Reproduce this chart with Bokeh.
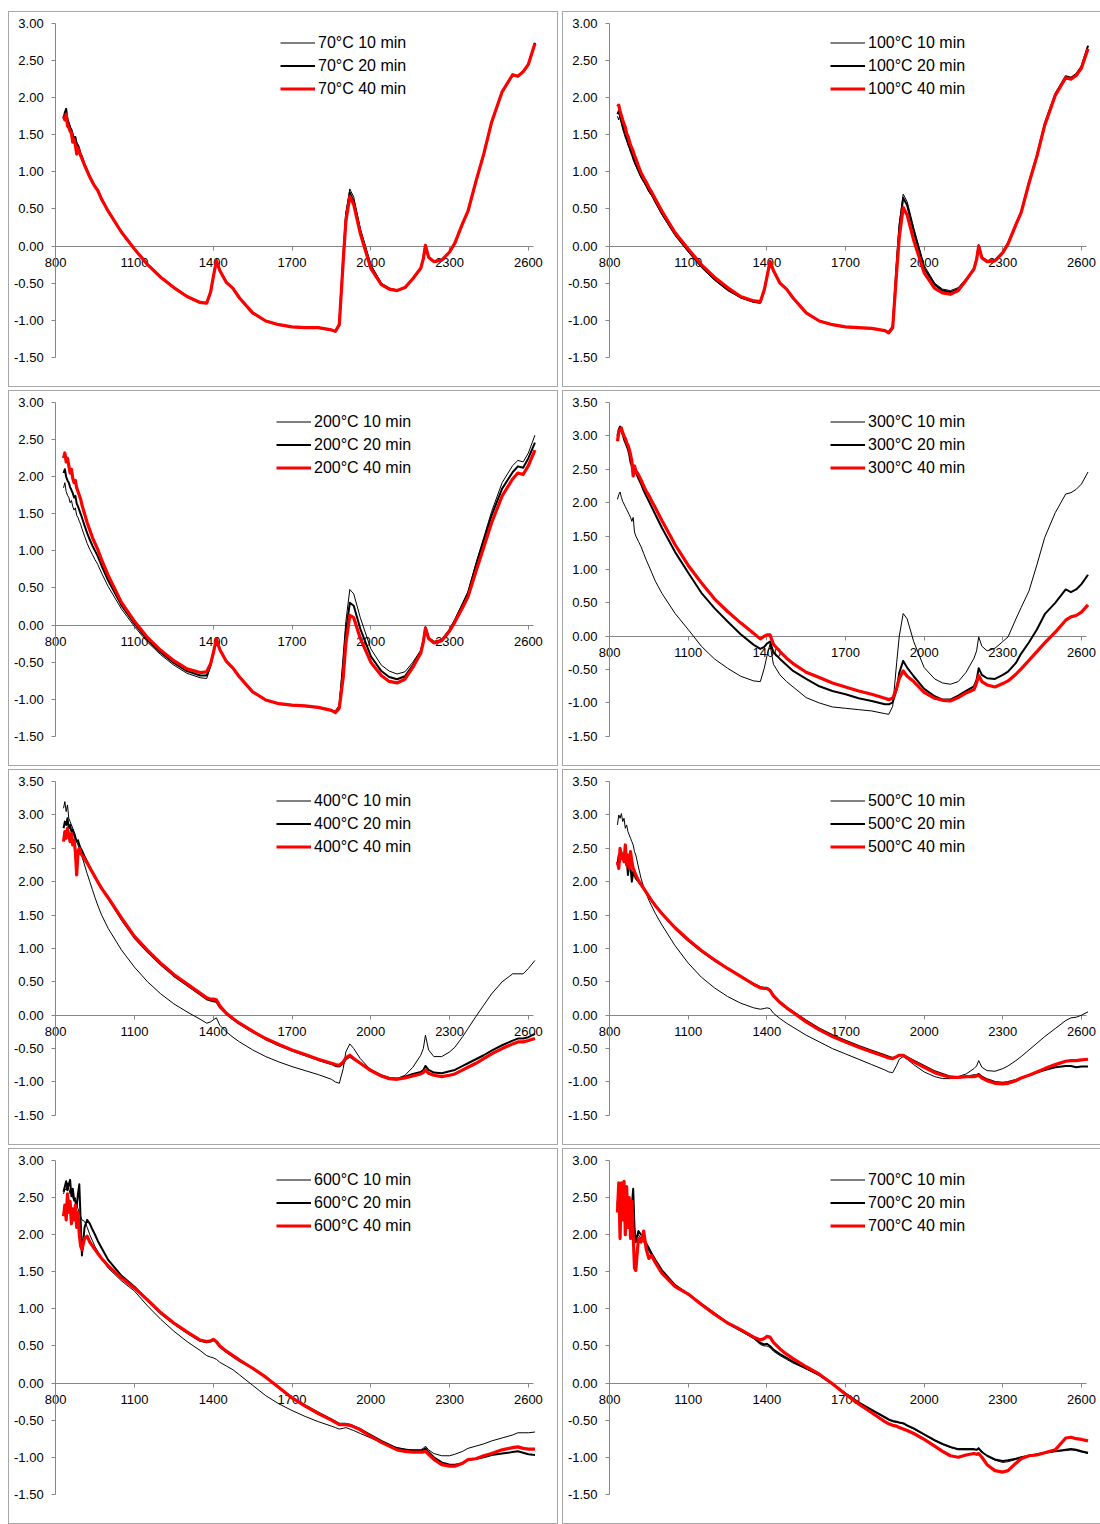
from bokeh.plotting import figure
from bokeh.layouts import column, row
from bokeh.models import (Range1d, FixedTicker, NumeralTickFormatter, Legend,
                          LegendItem, Spacer)
from bokeh.embed import file_html
from bokeh.resources import INLINE

WAVELENGTH_NM = [
    830, 835, 840, 845, 850, 855, 860, 865, 870, 875, 880, 885, 890, 895, 900,
    910, 920, 930, 940, 950, 960, 975, 1000,
    1050, 1100, 1150, 1200, 1250, 1300, 1350,
    1375, 1390, 1400, 1412, 1425, 1450, 1475, 1500,
    1550, 1600, 1650, 1700, 1750, 1800, 1850,
    1865, 1880, 1895, 1905, 1920, 1935, 1960,
    2000, 2040, 2070, 2100, 2130, 2160, 2190,
    2200, 2208, 2220, 2240, 2270, 2300,
    2320, 2350, 2370, 2400, 2430, 2460, 2500,
    2540, 2560, 2580, 2600, 2625]

T70_10 = [
    1.70, 1.76, 1.80, 1.74, 1.64, 1.62, 1.55, 1.52, 1.45, 1.44, 1.40, 1.34, 1.30, 1.25, 1.20,
    1.10, 1.02, 0.94, 0.87, 0.80, 0.76, 0.64, 0.47,
    0.19, -0.04, -0.25, -0.42, -0.56, -0.68, -0.76,
    -0.77, -0.62, -0.42, -0.19, -0.33, -0.49, -0.57, -0.70,
    -0.90, -1.01, -1.06, -1.09, -1.10, -1.10, -1.13,
    -1.15, -1.04, -0.12, 0.45, 0.77, 0.66, 0.24,
    -0.25, -0.50, -0.57, -0.60, -0.56, -0.44, -0.30,
    -0.17, 0.01, -0.15, -0.21, -0.19, -0.08,
    0.04, 0.31, 0.47, 0.87, 1.24, 1.67, 2.08,
    2.31, 2.29, 2.35, 2.45, 2.74]
T70_20 = [
    1.72, 1.80, 1.85, 1.70, 1.66, 1.60, 1.57, 1.50, 1.46, 1.47, 1.38, 1.36, 1.31, 1.24, 1.21,
    1.10, 1.02, 0.94, 0.87, 0.80, 0.76, 0.64, 0.47,
    0.19, -0.04, -0.25, -0.42, -0.56, -0.68, -0.76,
    -0.77, -0.62, -0.42, -0.19, -0.33, -0.49, -0.57, -0.70,
    -0.90, -1.01, -1.06, -1.09, -1.10, -1.10, -1.13,
    -1.15, -1.05, -0.15, 0.40, 0.72, 0.60, 0.20,
    -0.27, -0.51, -0.57, -0.60, -0.56, -0.44, -0.30,
    -0.17, 0.01, -0.15, -0.21, -0.19, -0.08,
    0.04, 0.31, 0.47, 0.87, 1.24, 1.67, 2.08,
    2.31, 2.29, 2.35, 2.45, 2.74]
T70_40 = [
    1.75, 1.70, 1.78, 1.62, 1.60, 1.55, 1.52, 1.40, 1.44, 1.36, 1.24, 1.32, 1.27, 1.22, 1.18,
    1.09, 1.01, 0.93, 0.86, 0.80, 0.75, 0.63, 0.47,
    0.19, -0.04, -0.25, -0.42, -0.56, -0.68, -0.76,
    -0.77, -0.62, -0.42, -0.20, -0.33, -0.49, -0.57, -0.70,
    -0.90, -1.01, -1.06, -1.09, -1.10, -1.10, -1.13,
    -1.15, -1.06, -0.20, 0.33, 0.67, 0.56, 0.17,
    -0.30, -0.52, -0.58, -0.60, -0.56, -0.44, -0.30,
    -0.17, 0.01, -0.15, -0.21, -0.19, -0.08,
    0.04, 0.31, 0.47, 0.87, 1.24, 1.67, 2.08,
    2.31, 2.29, 2.35, 2.45, 2.73]

T100_10 = [
    1.75, 1.70, 1.78, 1.65, 1.58, 1.52, 1.46, 1.42, 1.36, 1.32, 1.26, 1.22, 1.16, 1.12, 1.08,
    1.00, 0.92, 0.86, 0.80, 0.73, 0.68, 0.58, 0.42,
    0.14, -0.08, -0.29, -0.46, -0.60, -0.70, -0.76,
    -0.77, -0.60, -0.42, -0.20, -0.33, -0.50, -0.58, -0.70,
    -0.90, -1.01, -1.06, -1.09, -1.10, -1.11, -1.14,
    -1.16, -1.07, -0.20, 0.30, 0.70, 0.60, 0.25,
    -0.26, -0.50, -0.58, -0.60, -0.56, -0.44, -0.30,
    -0.17, 0.01, -0.15, -0.20, -0.19, -0.08,
    0.04, 0.30, 0.46, 0.86, 1.22, 1.65, 2.05,
    2.29, 2.27, 2.32, 2.42, 2.70]
T100_20 = [
    1.78, 1.82, 1.75, 1.68, 1.62, 1.55, 1.52, 1.45, 1.40, 1.35, 1.30, 1.25, 1.20, 1.15, 1.10,
    1.02, 0.94, 0.88, 0.82, 0.75, 0.70, 0.60, 0.44,
    0.16, -0.06, -0.27, -0.44, -0.58, -0.69, -0.75,
    -0.76, -0.60, -0.42, -0.20, -0.33, -0.50, -0.58, -0.70,
    -0.90, -1.01, -1.06, -1.09, -1.10, -1.11, -1.14,
    -1.16, -1.08, -0.25, 0.25, 0.65, 0.55, 0.20,
    -0.30, -0.52, -0.60, -0.62, -0.58, -0.45, -0.30,
    -0.17, 0.01, -0.15, -0.20, -0.19, -0.08,
    0.04, 0.30, 0.46, 0.86, 1.22, 1.65, 2.05,
    2.29, 2.27, 2.32, 2.42, 2.70]
T100_40 = [
    1.88, 1.90, 1.82, 1.76, 1.70, 1.65, 1.60, 1.52, 1.48, 1.42, 1.36, 1.32, 1.28, 1.22, 1.18,
    1.08, 0.99, 0.92, 0.86, 0.79, 0.73, 0.63, 0.47,
    0.18, -0.04, -0.25, -0.42, -0.56, -0.68, -0.74,
    -0.75, -0.59, -0.42, -0.21, -0.33, -0.50, -0.58, -0.70,
    -0.90, -1.01, -1.06, -1.09, -1.10, -1.11, -1.14,
    -1.17, -1.10, -0.35, 0.12, 0.52, 0.42, 0.08,
    -0.36, -0.57, -0.63, -0.65, -0.60, -0.46, -0.31,
    -0.18, 0.00, -0.16, -0.21, -0.20, -0.09,
    0.03, 0.29, 0.45, 0.85, 1.21, 1.63, 2.03,
    2.27, 2.25, 2.30, 2.40, 2.66]

T200_10 = [
    1.85, 1.92, 1.80, 1.75, 1.72, 1.65, 1.68, 1.60, 1.55, 1.58, 1.48, 1.45, 1.40, 1.36, 1.30,
    1.20, 1.10, 1.02, 0.95, 0.88, 0.82, 0.70, 0.52,
    0.22, -0.02, -0.23, -0.40, -0.54, -0.65, -0.71,
    -0.72, -0.56, -0.40, -0.19, -0.33, -0.49, -0.58, -0.70,
    -0.90, -1.01, -1.06, -1.08, -1.09, -1.11, -1.15,
    -1.16, -1.08, -0.40, 0.05, 0.48, 0.42, 0.10,
    -0.32, -0.54, -0.62, -0.66, -0.63, -0.50, -0.34,
    -0.20, -0.03, -0.16, -0.22, -0.20, -0.05,
    0.08, 0.30, 0.45, 0.83, 1.18, 1.53, 1.92,
    2.15, 2.22, 2.20, 2.32, 2.56]
T200_20 = [
    2.05, 2.10, 2.00, 1.95, 1.92, 1.86, 1.82, 1.78, 1.72, 1.74, 1.64, 1.60, 1.55, 1.50, 1.45,
    1.34, 1.24, 1.15, 1.07, 1.00, 0.93, 0.80, 0.60,
    0.27, 0.02, -0.20, -0.37, -0.51, -0.62, -0.68,
    -0.68, -0.54, -0.39, -0.19, -0.33, -0.49, -0.58, -0.70,
    -0.90, -1.01, -1.06, -1.08, -1.09, -1.11, -1.15,
    -1.17, -1.10, -0.55, -0.10, 0.30, 0.26, -0.05,
    -0.42, -0.62, -0.70, -0.73, -0.69, -0.54, -0.36,
    -0.21, -0.03, -0.17, -0.23, -0.20, -0.07,
    0.06, 0.28, 0.43, 0.80, 1.14, 1.48, 1.84,
    2.06, 2.14, 2.12, 2.25, 2.46]
T200_40 = [
    2.25, 2.32, 2.20, 2.25, 2.15, 2.05, 2.10, 1.98, 1.92, 1.95, 1.85, 1.80, 1.75, 1.70, 1.62,
    1.50, 1.38, 1.28, 1.18, 1.10, 1.02, 0.88, 0.67,
    0.31, 0.05, -0.17, -0.34, -0.48, -0.59, -0.64,
    -0.63, -0.52, -0.38, -0.19, -0.33, -0.49, -0.58, -0.70,
    -0.90, -1.01, -1.06, -1.08, -1.09, -1.11, -1.15,
    -1.18, -1.12, -0.70, -0.25, 0.13, 0.10, -0.18,
    -0.50, -0.68, -0.76, -0.78, -0.73, -0.57, -0.38,
    -0.23, -0.04, -0.18, -0.24, -0.21, -0.08,
    0.04, 0.24, 0.38, 0.72, 1.05, 1.38, 1.74,
    1.97, 2.05, 2.03, 2.15, 2.36]

T300_10 = [
    2.05, 2.12, 2.16, 2.08, 2.02, 1.98, 1.94, 1.90, 1.86, 1.82, 1.78, 1.72, 1.78, 1.56, 1.50,
    1.42, 1.34, 1.24, 1.14, 1.05, 0.96, 0.82, 0.64,
    0.34, 0.10, -0.15, -0.34, -0.48, -0.60, -0.67,
    -0.68, -0.48, -0.30, -0.12, -0.42, -0.58, -0.68, -0.76,
    -0.92, -1.00, -1.06, -1.08, -1.10, -1.12, -1.16,
    -1.17, -1.05, -0.40, 0.00, 0.34, 0.26, -0.08,
    -0.47, -0.64, -0.70, -0.72, -0.68, -0.54, -0.33,
    -0.22, -0.01, -0.15, -0.22, -0.18, -0.08,
    -0.01, 0.26, 0.43, 0.68, 1.07, 1.48, 1.85,
    2.13, 2.15, 2.20, 2.28, 2.46]
T300_20 = [
    3.00, 3.10, 3.14, 3.08, 3.02, 2.95, 2.90, 2.85, 2.80, 2.72, 2.60, 2.55, 2.42, 2.50, 2.45,
    2.36, 2.28, 2.18, 2.10, 2.02, 1.94, 1.82, 1.62,
    1.26, 0.95, 0.65, 0.42, 0.22, 0.03, -0.13,
    -0.19, -0.16, -0.11, -0.08, -0.24, -0.34, -0.43, -0.52,
    -0.64, -0.75, -0.82, -0.87, -0.93, -0.97, -1.02,
    -1.02, -0.99, -0.80, -0.55, -0.37, -0.47, -0.60,
    -0.79, -0.90, -0.95, -0.95, -0.89, -0.82, -0.75,
    -0.65, -0.48, -0.58, -0.63, -0.64, -0.58,
    -0.53, -0.40, -0.26, -0.09, 0.10, 0.33, 0.50,
    0.70, 0.66, 0.70, 0.78, 0.92]
T300_40 = [
    2.92, 3.05, 3.10, 3.12, 3.05, 3.00, 2.96, 2.90, 2.86, 2.80, 2.72, 2.62, 2.40, 2.55, 2.48,
    2.42, 2.34, 2.25, 2.17, 2.11, 2.03, 1.92, 1.73,
    1.37, 1.06, 0.80, 0.56, 0.37, 0.20, 0.04,
    -0.04, 0.00, 0.02, 0.02, -0.12, -0.23, -0.33, -0.41,
    -0.54, -0.62, -0.70, -0.76, -0.82, -0.87, -0.93,
    -0.95, -0.93, -0.78, -0.63, -0.52, -0.60, -0.68,
    -0.84, -0.93, -0.96, -0.97, -0.92, -0.85, -0.80,
    -0.70, -0.59, -0.68, -0.73, -0.76, -0.71,
    -0.67, -0.57, -0.49, -0.36, -0.23, -0.10, 0.06,
    0.24, 0.29, 0.31, 0.36, 0.47]

T400_10 = [
    3.10, 3.20, 3.05, 3.15, 2.95, 2.90, 2.85, 2.80, 2.75, 2.70, 2.60, 2.55, 2.50, 2.45, 2.38,
    2.25, 2.12, 2.00, 1.88, 1.76, 1.65, 1.50, 1.30,
    0.98, 0.72, 0.50, 0.32, 0.17, 0.05, -0.06,
    -0.12, -0.10, -0.07, -0.04, -0.15, -0.25, -0.33, -0.40,
    -0.52, -0.62, -0.70, -0.77, -0.83, -0.89, -0.96,
    -1.00, -1.02, -0.80, -0.55, -0.43, -0.50, -0.65,
    -0.82, -0.92, -0.95, -0.95, -0.90, -0.78, -0.60,
    -0.50, -0.30, -0.52, -0.62, -0.62, -0.55,
    -0.48, -0.32, -0.20, -0.02, 0.15, 0.32, 0.50,
    0.62, 0.62, 0.62, 0.70, 0.82]
T400_20 = [
    2.80, 2.90, 2.85, 2.95, 2.80, 2.85, 2.75, 2.78, 2.70, 2.65, 2.60, 2.62, 2.55, 2.50, 2.47,
    2.38, 2.30, 2.22, 2.14, 2.07, 2.00, 1.90, 1.75,
    1.44, 1.16, 0.95, 0.76, 0.59, 0.45, 0.31,
    0.24, 0.22, 0.21, 0.20, 0.12, 0.02, -0.06, -0.13,
    -0.25, -0.36, -0.45, -0.53, -0.60, -0.67, -0.73,
    -0.76, -0.77, -0.72, -0.66, -0.62, -0.66, -0.72,
    -0.82, -0.90, -0.94, -0.95, -0.92, -0.88, -0.85,
    -0.82, -0.76, -0.82, -0.86, -0.87, -0.84,
    -0.82, -0.76, -0.72, -0.66, -0.60, -0.53, -0.45,
    -0.38, -0.35, -0.35, -0.33, -0.28]
T400_40 = [
    2.60, 2.75, 2.65, 2.80, 2.70, 2.60, 2.72, 2.55, 2.62, 2.45, 2.10, 2.45, 2.50, 2.42, 2.40,
    2.34, 2.28, 2.21, 2.14, 2.07, 2.00, 1.90, 1.76,
    1.46, 1.18, 0.97, 0.78, 0.61, 0.47, 0.33,
    0.26, 0.24, 0.24, 0.23, 0.14, 0.03, -0.05, -0.12,
    -0.24, -0.35, -0.44, -0.52, -0.59, -0.66, -0.72,
    -0.74, -0.75, -0.70, -0.64, -0.60, -0.65, -0.72,
    -0.83, -0.91, -0.95, -0.96, -0.94, -0.91, -0.88,
    -0.86, -0.82, -0.87, -0.90, -0.92, -0.90,
    -0.88, -0.82, -0.78, -0.72, -0.65, -0.58, -0.50,
    -0.43, -0.40, -0.40, -0.38, -0.35]

T500_10 = [
    2.85, 3.00, 2.95, 3.02, 2.90, 2.95, 2.80, 2.85, 2.75, 2.70, 2.65, 2.60, 2.55, 2.45, 2.40,
    2.22, 2.05, 1.92, 1.82, 1.72, 1.64, 1.52, 1.35,
    1.04, 0.78, 0.57, 0.41, 0.28, 0.18, 0.11,
    0.09, 0.10, 0.11, 0.10, 0.03, -0.05, -0.12, -0.18,
    -0.30, -0.40, -0.50, -0.58, -0.66, -0.74, -0.82,
    -0.85, -0.86, -0.75, -0.66, -0.62, -0.66, -0.74,
    -0.85, -0.92, -0.95, -0.95, -0.92, -0.88, -0.80,
    -0.76, -0.68, -0.78, -0.83, -0.84, -0.80,
    -0.76, -0.68, -0.62, -0.52, -0.42, -0.32, -0.20,
    -0.08, -0.04, -0.03, 0.00, 0.05]
T500_20 = [
    2.25, 2.40, 2.30, 2.45, 2.35, 2.42, 2.30, 2.35, 2.10, 2.30, 2.20, 2.00, 2.15, 2.10, 2.05,
    2.00, 1.95, 1.90, 1.84, 1.78, 1.72, 1.64, 1.52,
    1.30, 1.12, 0.96, 0.82, 0.70, 0.58, 0.47,
    0.42, 0.41, 0.41, 0.38, 0.30, 0.20, 0.12, 0.05,
    -0.08, -0.20, -0.30, -0.38, -0.46, -0.53, -0.60,
    -0.62, -0.64, -0.62, -0.60, -0.60, -0.63, -0.68,
    -0.76, -0.84, -0.88, -0.92, -0.93, -0.92, -0.90,
    -0.90, -0.88, -0.92, -0.96, -1.00, -1.01,
    -1.00, -0.97, -0.94, -0.90, -0.86, -0.82, -0.78,
    -0.76, -0.76, -0.78, -0.77, -0.77]
T500_40 = [
    2.30, 2.20, 2.50, 2.35, 2.40, 2.30, 2.55, 2.25, 2.40, 2.20, 2.45, 2.30, 2.20, 2.15, 2.10,
    2.02, 1.96, 1.90, 1.84, 1.78, 1.72, 1.64, 1.52,
    1.31, 1.13, 0.97, 0.83, 0.70, 0.58, 0.46,
    0.41, 0.40, 0.40, 0.37, 0.29, 0.19, 0.11, 0.04,
    -0.10, -0.22, -0.32, -0.40, -0.48, -0.55, -0.62,
    -0.64, -0.65, -0.62, -0.60, -0.60, -0.64, -0.70,
    -0.78, -0.86, -0.90, -0.93, -0.93, -0.92, -0.92,
    -0.91, -0.90, -0.94, -0.98, -1.02, -1.03,
    -1.02, -0.98, -0.94, -0.90, -0.85, -0.80, -0.74,
    -0.69, -0.68, -0.68, -0.67, -0.66]

T600_10 = [
    2.55, 2.62, 2.60, 2.70, 2.62, 2.55, 2.60, 2.50, 2.45, 2.50, 2.40, 2.35, 2.30, 2.25, 2.20,
    2.18, 2.10, 2.00, 1.92, 1.84, 1.78, 1.68, 1.55,
    1.38, 1.24, 1.04, 0.86, 0.70, 0.56, 0.44,
    0.37, 0.35, 0.34, 0.32, 0.28, 0.23, 0.18, 0.11,
    -0.03, -0.17, -0.28, -0.37, -0.45, -0.52, -0.58,
    -0.60, -0.62, -0.61, -0.60, -0.62, -0.64, -0.68,
    -0.74, -0.80, -0.84, -0.87, -0.89, -0.90, -0.90,
    -0.88, -0.85, -0.90, -0.95, -0.98, -0.98,
    -0.96, -0.92, -0.88, -0.85, -0.82, -0.78, -0.74,
    -0.70, -0.67, -0.67, -0.67, -0.66]
T600_20 = [
    2.58, 2.65, 2.72, 2.60, 2.68, 2.74, 2.52, 2.62, 2.48, 2.45, 2.38, 2.55, 2.68, 2.20, 1.72,
    2.10, 2.20, 2.15, 2.07, 2.00, 1.92, 1.82, 1.66,
    1.45, 1.30, 1.12, 0.94, 0.80, 0.68, 0.57,
    0.55, 0.56, 0.58, 0.55, 0.49, 0.42, 0.36, 0.30,
    0.20, 0.08, -0.06, -0.20, -0.30, -0.40, -0.49,
    -0.52, -0.55, -0.55, -0.55, -0.56, -0.58, -0.62,
    -0.70, -0.78, -0.83, -0.88, -0.90, -0.91, -0.91,
    -0.90, -0.88, -0.93, -1.00, -1.07, -1.10,
    -1.10, -1.08, -1.04, -1.02, -1.00, -0.97, -0.95,
    -0.93, -0.92, -0.94, -0.96, -0.97]
T600_40 = [
    2.25, 2.40, 2.20, 2.55, 2.30, 2.45, 2.15, 2.35, 2.20, 2.40, 2.10, 2.30, 2.00, 1.85, 1.80,
    1.95, 1.98, 1.90, 1.85, 1.80, 1.75, 1.68, 1.58,
    1.42, 1.28, 1.12, 0.95, 0.81, 0.69, 0.58,
    0.56, 0.57, 0.59, 0.56, 0.50, 0.43, 0.37, 0.31,
    0.20, 0.08, -0.06, -0.20, -0.31, -0.41, -0.50,
    -0.53, -0.56, -0.56, -0.56, -0.57, -0.59, -0.63,
    -0.72, -0.80, -0.85, -0.90, -0.92, -0.93, -0.93,
    -0.93, -0.92, -0.96, -1.03, -1.10, -1.12,
    -1.12, -1.08, -1.03, -1.02, -0.98, -0.95, -0.90,
    -0.87, -0.86, -0.88, -0.89, -0.89]

T700_10 = [
    2.35, 2.55, 2.30, 2.50, 2.20, 2.45, 2.35, 2.30, 2.25, 2.40, 2.20, 2.30, 2.15, 2.00, 1.95,
    2.00, 1.95, 1.90, 1.85, 1.78, 1.72, 1.64, 1.50,
    1.30, 1.19, 1.06, 0.93, 0.80, 0.70, 0.60,
    0.52, 0.50, 0.50, 0.48, 0.43, 0.37, 0.32, 0.27,
    0.19, 0.10, -0.02, -0.15, -0.27, -0.37, -0.47,
    -0.50, -0.52, -0.53, -0.54, -0.55, -0.58, -0.62,
    -0.70, -0.78, -0.83, -0.87, -0.90, -0.90, -0.90,
    -0.90, -0.87, -0.92, -0.98, -1.04, -1.07,
    -1.06, -1.03, -1.00, -0.98, -0.96, -0.94, -0.92,
    -0.91, -0.90, -0.91, -0.93, -0.95]
T700_20 = [
    2.40, 2.60, 2.35, 2.50, 2.30, 2.45, 2.40, 2.55, 2.25, 2.35, 2.20, 2.40, 2.62, 2.10, 1.90,
    2.05, 2.00, 1.95, 1.88, 1.82, 1.75, 1.66, 1.52,
    1.32, 1.20, 1.07, 0.94, 0.81, 0.71, 0.61,
    0.54, 0.52, 0.53, 0.50, 0.45, 0.39, 0.34, 0.29,
    0.20, 0.11, -0.01, -0.14, -0.26, -0.36, -0.46,
    -0.49, -0.51, -0.52, -0.53, -0.54, -0.57, -0.61,
    -0.69, -0.77, -0.82, -0.86, -0.89, -0.89, -0.89,
    -0.90, -0.88, -0.93, -0.98, -1.03, -1.05,
    -1.04, -1.02, -1.00, -0.98, -0.96, -0.94, -0.92,
    -0.90, -0.89, -0.90, -0.92, -0.94]
T700_40 = [
    2.30, 2.70, 1.95, 2.70, 2.20, 2.72, 2.00, 2.65, 2.10, 2.50, 1.95, 2.45, 2.00, 1.55, 1.52,
    1.95, 1.90, 2.05, 1.80, 1.68, 1.72, 1.62, 1.48,
    1.30, 1.20, 1.06, 0.93, 0.81, 0.72, 0.62,
    0.58, 0.60, 0.63, 0.62, 0.55, 0.46, 0.39, 0.33,
    0.22, 0.12, -0.01, -0.15, -0.28, -0.40, -0.52,
    -0.55, -0.57, -0.58, -0.60, -0.62, -0.64, -0.68,
    -0.76, -0.85, -0.92, -0.98, -1.00, -0.97, -0.95,
    -0.96, -0.95, -1.00, -1.10, -1.18, -1.20,
    -1.18, -1.08, -1.02, -0.98, -0.97, -0.94, -0.90,
    -0.74, -0.73, -0.75, -0.76, -0.78]

TEMPERATURES = ["70", "100", "200", "300", "400", "500", "600", "700"]
Y_MAX = [3.0, 3.0, 3.0, 3.5, 3.5, 3.5, 3.0, 3.0]
SERIES = [
    (T70_10, T70_20, T70_40), (T100_10, T100_20, T100_40),
    (T200_10, T200_20, T200_40), (T300_10, T300_20, T300_40),
    (T400_10, T400_20, T400_40), (T500_10, T500_20, T500_40),
    (T600_10, T600_20, T600_40), (T700_10, T700_20, T700_40)]
TIMES = ["10 min", "20 min", "40 min"]
X_TICKS = [800, 1100, 1400, 1700, 2000, 2300, 2600]

for trio in SERIES:
    for s in trio:
        assert len(s) == len(WAVELENGTH_NM), len(s)

AXIS_GRAY = "#868686"
BORDER_GRAY = "#a6a6a6"
FONT = "Liberation Sans"
STYLES = [("#000000", 1.0), ("#000000", 2.0), ("#FF0000", 3.2)]

PANEL_H = 376
SX = 471.0 / 1800.0          # pixels per nm


def make_panel(idx):
    temp = TEMPERATURES[idx]
    ymax = Y_MAX[idx]
    left_col = (idx % 2 == 0)
    w = 550 if left_col else 538
    h = PANEL_H
    cw = w - 2 if left_col else w - 1      # canvas inside the CSS border
    ch = h - 2
    # x: 800 nm at 46 px from canvas left
    x0 = 800 - 46 / SX
    x1 = x0 + cw / SX
    # y: ymax at 11 px from canvas top, -1.5 at 343 px
    sy = 332.0 / (ymax + 1.5)
    y1 = ymax + 11 / sy
    y0 = y1 - ch / sy

    p = figure(width=w, height=h, output_backend="svg", toolbar_location=None,
               x_range=Range1d(x0, x1), y_range=Range1d(y0, y1),
               min_border_left=0, min_border_right=0, min_border_top=0,
               min_border_bottom=0)
    border = "1px solid " + BORDER_GRAY
    if left_col:
        p.styles = {"border": border, "box-sizing": "border-box"}
    else:
        p.styles = {"border-top": border, "border-bottom": border,
                    "border-left": border, "box-sizing": "border-box"}
    p.outline_line_color = None
    p.grid.visible = False
    p.background_fill_color = "white"
    p.border_fill_color = "white"

    yt = []
    v = -1.5
    while v <= ymax + 1e-9:
        yt.append(round(v, 2))
        v += 0.5

    for ax in (p.xaxis[0], p.yaxis[0]):
        ax.axis_line_color = AXIS_GRAY
        ax.major_tick_line_color = AXIS_GRAY
        ax.minor_tick_line_color = None
        ax.major_tick_in = 0
        ax.major_tick_out = 4
        ax.major_label_text_font = FONT
        ax.major_label_text_font_size = "13px"
        ax.major_label_text_color = "#000000"
        ax.level = "underlay"

    p.xaxis[0].ticker = FixedTicker(ticks=X_TICKS)
    p.xaxis[0].fixed_location = 0
    p.xaxis[0].bounds = (800, 2620)
    p.xaxis[0].major_label_standoff = 8

    p.yaxis[0].ticker = FixedTicker(ticks=yt)
    p.yaxis[0].formatter = NumeralTickFormatter(format="0.00")
    p.yaxis[0].fixed_location = 800
    p.yaxis[0].bounds = (-1.5, ymax)
    p.yaxis[0].major_label_standoff = 8

    renderers = []
    for s, (col, lw) in zip(SERIES[idx], STYLES):
        r = p.line(WAVELENGTH_NM, s, line_color=col, line_width=lw,
                   line_join="round")
        renderers.append(r)

    items = [LegendItem(label=f"{temp}°C {t}", renderers=[r])
             for t, r in zip(TIMES, renderers)]
    lx = 271 if temp == "70" else 267
    legend = Legend(items=items, location=(lx, round(ch - 16.5 - 69)),
                    label_text_font=FONT, label_text_font_size="16px",
                    label_text_color="#000000",
                    glyph_width=35, glyph_height=23, label_height=23,
                    label_standoff=3, spacing=0, padding=0, margin=0,
                    border_line_color=None, background_fill_alpha=0)
    p.add_layout(legend)
    return p


panels = [make_panel(i) for i in range(8)]
rows = [row(panels[2 * k], panels[2 * k + 1], spacing=4) for k in range(4)]
grid = column(*rows, spacing=3)
layout = column(Spacer(width=10, height=11), row(Spacer(width=8, height=10), grid))

open("out.html", "w").write(file_html(layout, INLINE))
